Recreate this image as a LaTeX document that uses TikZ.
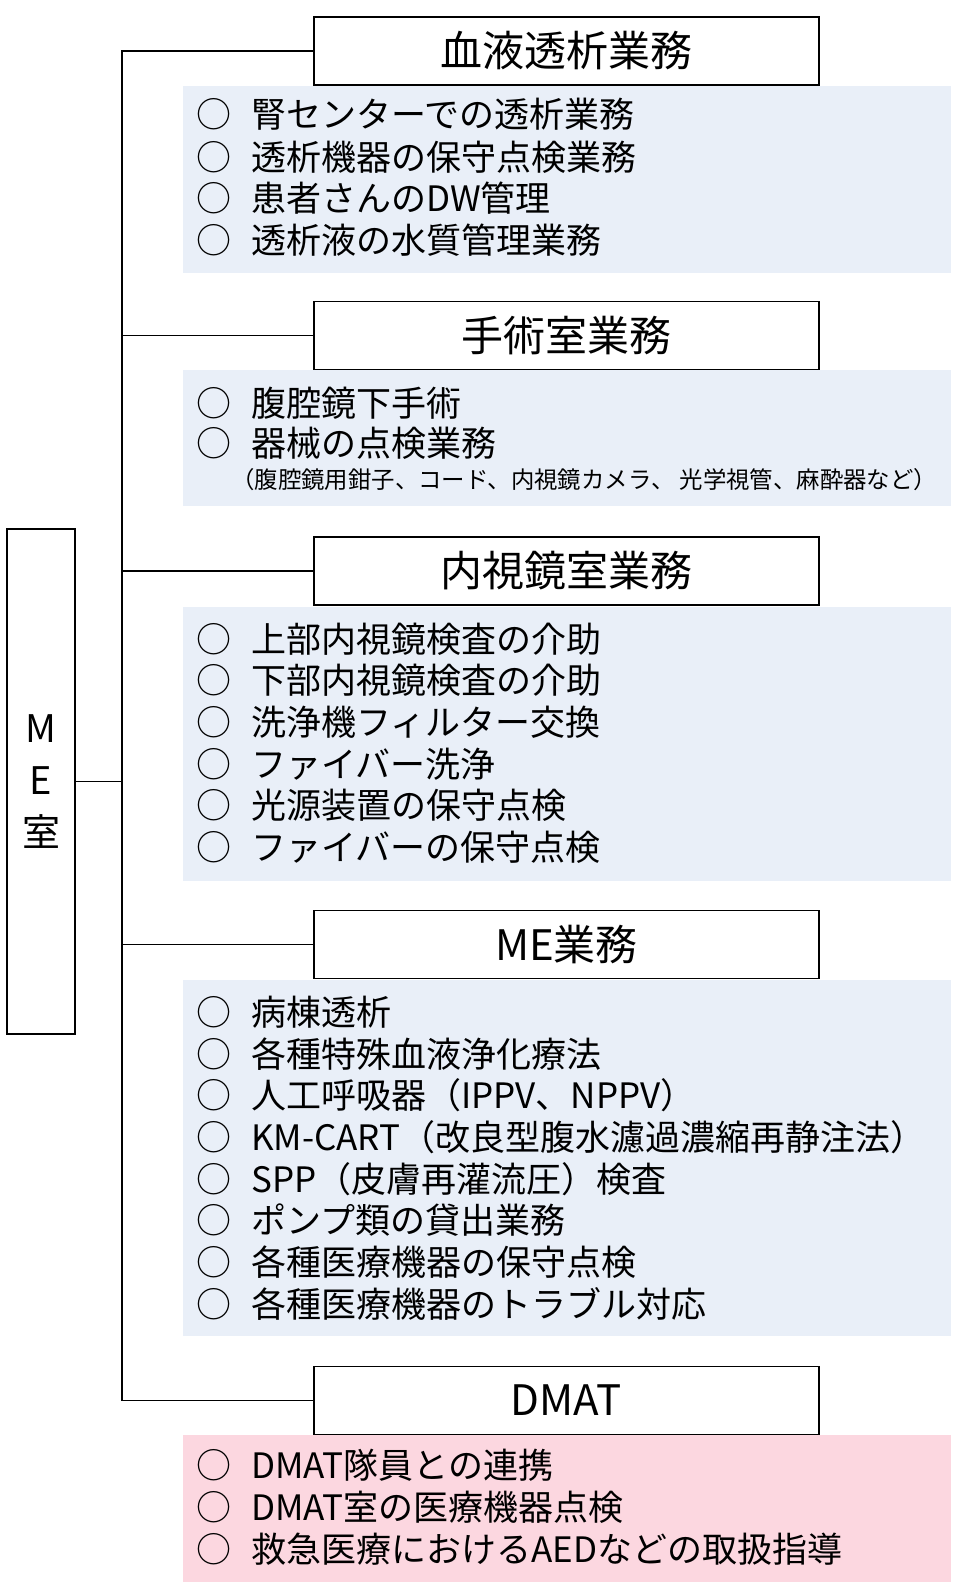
\documentclass[tikz,border=0pt]{standalone}
\usepackage{fontspec}
\setmainfont{Noto Sans CJK JP}
\definecolor{bluebg}{RGB}{233,239,248}
\definecolor{pinkbg}{RGB}{252,215,224}
\newcommand{\myitem}[1]{\makebox[55pt][l]{○}#1}
\begin{document}
\begin{tikzpicture}[x=1pt,y=-1pt,
  hdr/.style={draw, line width=1.8pt, fill=white, minimum width=505pt, minimum height=68pt, inner sep=0pt, font=\fontsize{42}{50}\selectfont},
  panel/.style={fill=bluebg, draw=none, minimum width=768pt, inner sep=0pt},
  pinkpanel/.style={fill=pinkbg, draw=none, minimum width=768pt, inner sep=0pt},
  item/.style={anchor=west, inner sep=0pt, font=\fontsize{35}{40}\selectfont},
  small/.style={anchor=west, inner sep=0pt, font=\fontsize{23.4}{28}\selectfont},
  conn/.style={line width=1.5pt},
  mebox/.style={draw, line width=1.8pt, minimum width=68pt, minimum height=505pt, inner sep=0pt, align=center, font=\fontsize{38}{52}\selectfont}]
\useasboundingbox (0,0) rectangle (960,1594);
% panels
\node[panel, minimum height=187pt] (p1) at (567,179.5) {};
\node[panel, minimum height=136pt] (p2) at (567,438) {};
\node[panel, minimum height=274pt] (p3) at (567,744) {};
\node[panel, minimum height=356pt] (p4) at (567,1158) {};
\node[pinkpanel, minimum height=147pt] (p5) at (567,1508.5) {};
% headers
\node[hdr] (h1) at (566.5,51) {血液透析業務};
\node[hdr] (h2) at (566.5,335.5) {手術室業務};
\node[hdr] (h3) at (566.5,571) {内視鏡室業務};
\node[hdr] (h4) at (566.5,944.5) {ME業務};
\node[hdr] (h5) at (566.5,1400.5) {DMAT};
% ME box
\node[mebox] (me) at (41,781.5) {M\\E\\室};
% connectors
\coordinate (trunk) at (122,51);
\draw[conn] (h1.west) -- (h1.west -| trunk) -- (h5.west -| trunk) -- (h5.west);
\draw[conn] (h2.west) -- (h2.west -| trunk);
\draw[conn] (h3.west) -- (h3.west -| trunk);
\draw[conn] (h4.west) -- (h4.west -| trunk);
\draw[conn] (me.east) -- (me.east -| trunk);
% items 1
\node[item] (a1) at (196,114) {\myitem{腎センターでの透析業務}};
\node[item] (a2) at (196,157) {\myitem{透析機器の保守点検業務}};
\node[item] (a3) at (196,198) {\myitem{患者さんのDW管理}};
\node[item] (a4) at (196,240) {\myitem{透析液の水質管理業務}};
% items 2
\node[item] (b1) at (196,403) {\myitem{腹腔鏡下手術}};
\node[item] (b2) at (196,443) {\myitem{器械の点検業務}};
\node[small] (b3) at (231,480) {（腹腔鏡用鉗子、コード、内視鏡カメラ、 光学視管、麻酔器など）};
% items 3
\node[item] (c1) at (196,639) {\myitem{上部内視鏡検査の介助}};
\node[item] (c2) at (196,680) {\myitem{下部内視鏡検査の介助}};
\node[item] (c3) at (196,722) {\myitem{洗浄機フィルター交換}};
\node[item] (c4) at (196,764) {\myitem{ファイバー洗浄}};
\node[item] (c5) at (196,805) {\myitem{光源装置の保守点検}};
\node[item] (c6) at (196,847) {\myitem{ファイバーの保守点検}};
% items 4
\node[item] (d1) at (196,1012) {\myitem{病棟透析}};
\node[item] (d2) at (196,1054) {\myitem{各種特殊血液浄化療法}};
\node[item] (d3) at (196,1095) {\myitem{人工呼吸器（IPPV、NPPV）}};
\node[item] (d4) at (196,1137) {\myitem{KM-CART（改良型腹水濾過濃縮再静注法）}};
\node[item] (d5) at (196,1179) {\myitem{SPP（皮膚再灌流圧）検査}};
\node[item] (d6) at (196,1220) {\myitem{ポンプ類の貸出業務}};
\node[item] (d7) at (196,1262) {\myitem{各種医療機器の保守点検}};
\node[item] (d8) at (196,1304) {\myitem{各種医療機器のトラブル対応}};
% items 5
\node[item] (e1) at (196,1465) {\myitem{DMAT隊員との連携}};
\node[item] (e2) at (196,1507) {\myitem{DMAT室の医療機器点検}};
\node[item] (e3) at (196,1549) {\myitem{救急医療におけるAEDなどの取扱指導}};
\end{tikzpicture}
\end{document}
